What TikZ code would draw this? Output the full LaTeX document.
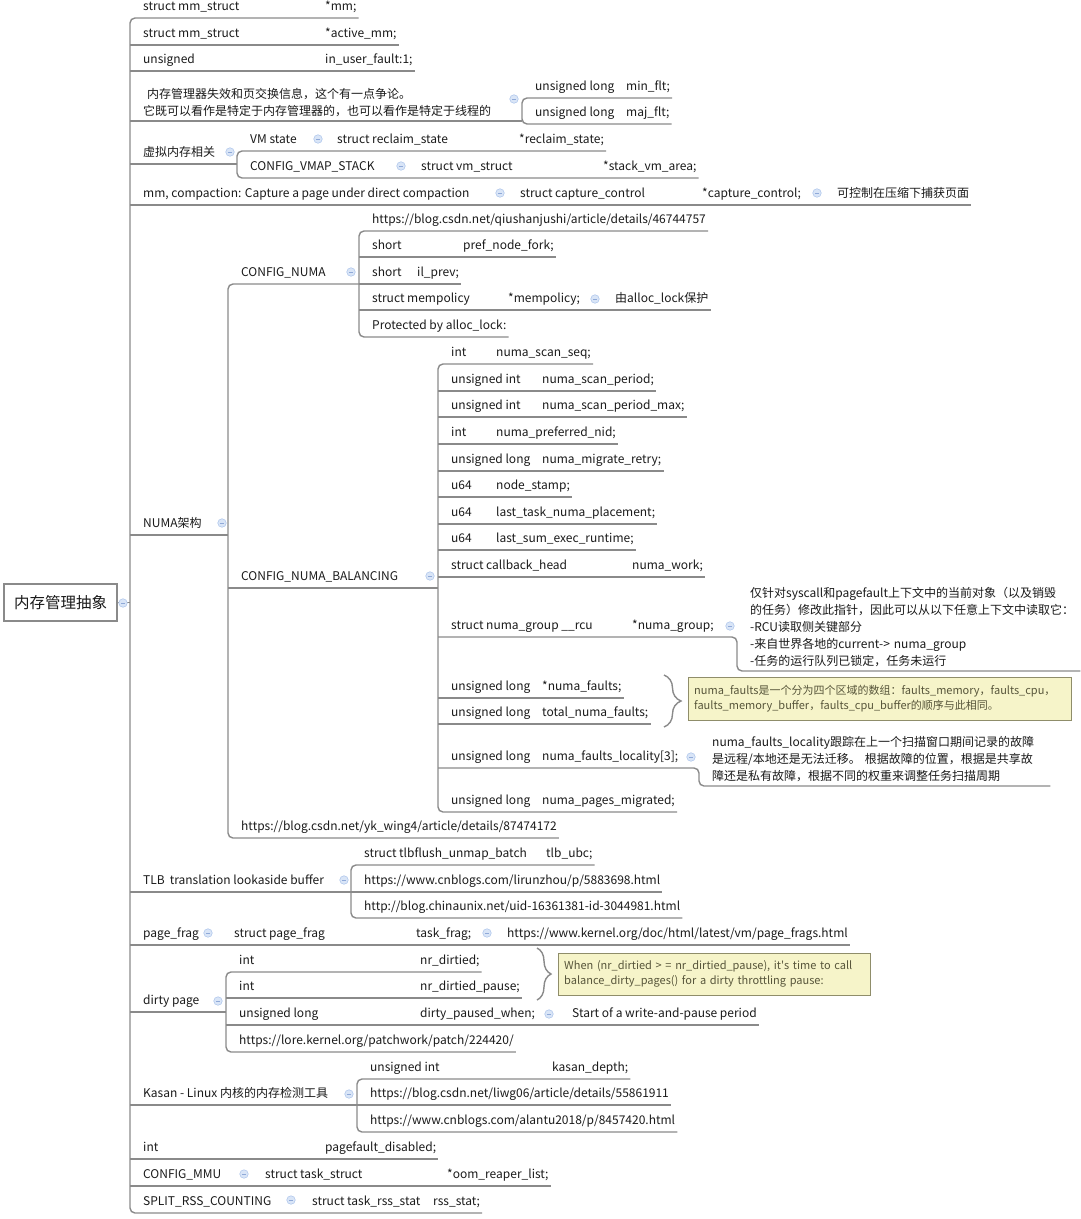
\documentclass[tikz,border=0pt]{standalone}
\usepackage{fontspec}
\setmainfont{Noto Sans CJK SC}
\newfontfamily\plainfont{Noto Sans CJK SC}
\usetikzlibrary{positioning, decorations.pathreplacing}
\definecolor{lnc}{HTML}{8A8A8A}
\definecolor{txtc}{HTML}{1A1A1A}
\definecolor{foldfill}{HTML}{D9E5F7}
\definecolor{folddraw}{HTML}{B2C8EC}
\definecolor{foldbar}{HTML}{8FA9D8}
\definecolor{notefill}{HTML}{F6F4C9}
\definecolor{notedraw}{HTML}{8F8D6A}
\definecolor{notetxt}{HTML}{57553A}
\newcommand{\cl}[2]{\makebox[#1pt][l]{#2}}

\begin{document}
\begin{tikzpicture}[
  x=1pt, y=-1pt,
  font=\fontsize{12pt}{17pt}\selectfont, text=txtc,
  item/.style={anchor=south west, inner xsep=2pt, inner ysep=0pt, text depth=7pt},
  mitem/.style={anchor=south west, inner xsep=2pt, inner ysep=4.5pt, align=left},
  ln/.style={draw=lnc, line width=1.4pt},
  rc/.style={rounded corners=5pt},
  fold/.style={circle, draw=folddraw, fill=foldfill, line width=0.6pt, minimum size=8.5pt, inner sep=0pt,
    path picture={\draw[foldbar, line width=0.7pt] ([xshift=-2.2pt]path picture bounding box.center) -- ([xshift=2.2pt]path picture bounding box.center);}},
  root/.style={draw=lnc, line width=1.4pt, fill=white, minimum width=113pt, minimum height=37pt, font=\fontsize{15.5pt}{18pt}\selectfont},
  note/.style={draw=notedraw, fill=notefill, text=notetxt, anchor=north west, align=left, inner xsep=6pt, inner ysep=5pt, font=\fontsize{11pt}{15pt}\selectfont},
  brc/.style={draw=lnc, line width=1.4pt, decorate, decoration={brace, amplitude=#1}},
]
\useasboundingbox (0,0) rectangle (1080,1219);

\node[root] (root) at (60.5,602.5) {内存管理抽象};

% first level
\node[item] (a1) at (141,18) {\cl{182}{struct mm\_struct}*mm;};
\node[item] (a2) at (141,45) {\cl{182}{struct mm\_struct}*active\_mm;};
\node[item] (a3) at (141,71) {\cl{182}{unsigned}in\_user\_fault:1;};
\node[mitem] (a4) at (141,121) {\hspace*{4pt}内存管理器失效和页交换信息，这个有一点争论。\\它既可以看作是特定于内存管理器的，也可以看作是特定于线程的};
\node[item] (a4a) at (533,98) {\cl{91}{unsigned long}min\_flt;};
\node[item] (a4b) at (533,124) {\cl{91}{unsigned long}maj\_flt;};
\node[item] (a5) at (141,164) {虚拟内存相关};
\node[item] (a5a) at (248,151) {VM state};
\node[item] (a5ac) at (335,151) {\cl{182}{struct reclaim\_state}*reclaim\_state;};
\node[item] (a5b) at (248,178) {CONFIG\_VMAP\_STACK};
\node[item] (a5bc) at (419,178) {\cl{182}{struct vm\_struct}*stack\_vm\_area;};
\node[item] (a6) at (141,205) {mm, compaction: Capture a page under direct compaction};
\node[item] (a6c) at (518,205) {\cl{182}{struct capture\_control}*capture\_control;};
\node[item] (a6cc) at (835,205) {可控制在压缩下捕获页面};
\node[item] (a7) at (141,535) {NUMA架构};

% CONFIG_NUMA
\node[item] (b1) at (239,284) {CONFIG\_NUMA};
\node[item] (c1) at (370,231) {https://blog.csdn.net/qiushanjushi/article/details/46744757};
\node[item] (c2) at (370,257) {\cl{91}{short}pref\_node\_fork;};
\node[item] (c3) at (370,284) {\cl{45}{short}il\_prev;};
\node[item] (c4) at (370,310) {\cl{136}{struct mempolicy}*mempolicy;};
\node[item] (c4c) at (613,310) {由alloc\_lock保护};
\node[item] (c5) at (370,337) {Protected by alloc\_lock:};

% CONFIG_NUMA_BALANCING
\node[item] (b2) at (239,588) {CONFIG\_NUMA\_BALANCING};
\node[item] (d1) at (449,364) {\cl{45}{int}numa\_scan\_seq;};
\node[item] (d2) at (449,391) {\cl{91}{unsigned int}numa\_scan\_period;};
\node[item] (d3) at (449,417) {\cl{91}{unsigned int}numa\_scan\_period\_max;};
\node[item] (d4) at (449,444) {\cl{45}{int}numa\_preferred\_nid;};
\node[item] (d5) at (449,471) {\cl{91}{unsigned long}numa\_migrate\_retry;};
\node[item] (d6) at (449,497) {\cl{45}{u64}node\_stamp;};
\node[item] (d7) at (449,524) {\cl{45}{u64}last\_task\_numa\_placement;};
\node[item] (d8) at (449,550) {\cl{45}{u64}last\_sum\_exec\_runtime;};
\node[item] (d9) at (449,577) {\cl{181}{struct callback\_head}numa\_work;};
\node[item] (d10) at (449,637) {\cl{181}{struct numa\_group \_\_rcu}*numa\_group;};
\node[mitem, text width=328pt] (d10n) at (748,671) {仅针对syscall和pagefault上下文中的当前对象（以及销毁\\的任务）修改此指针，因此可以从以下任意上下文中读取它：\\-RCU读取侧关键部分\\-来自世界各地的current-> numa\_group\\-任务的运行队列已锁定，任务未运行};
\node[item] (d11) at (449,698) {\cl{91}{unsigned long}*numa\_faults;};
\node[item] (d12) at (449,724) {\cl{91}{unsigned long}total\_numa\_faults;};
\node[note, text width=371pt, minimum height=43pt] (n1) at (688,677) {numa\_faults是一个分为四个区域的数组：faults\_memory，faults\_cpu，\\faults\_memory\_buffer，faults\_cpu\_buffer的顺序与此相同。};
\node[item] (d13) at (449,768) {\cl{91}{unsigned long}numa\_faults\_locality[3];};
\node[mitem, text width=336pt] (d13n) at (710,786) {numa\_faults\_locality跟踪在上一个扫描窗口期间记录的故障\\是远程/本地还是无法迁移。 根据故障的位置，根据是共享故\\障还是私有故障，根据不同的权重来调整任务扫描周期};
\node[item] (d14) at (449,812) {\cl{91}{unsigned long}numa\_pages\_migrated;};
\node[item] (b3) at (239,838) {https://blog.csdn.net/yk\_wing4/article/details/87474172};

% TLB, page_frag, dirty page
\node[item] (a8) at (141,892) {TLB\hspace{5pt}translation lookaside buffer};
\node[item] (e1) at (362,865) {\cl{182}{struct tlbflush\_unmap\_batch}tlb\_ubc;};
\node[item] (e2) at (362,892) {https://www.cnblogs.com/lirunzhou/p/5883698.html};
\node[item] (e3) at (362,918) {http://blog.chinaunix.net/uid-16361381-id-3044981.html};
\node[item] (a9) at (141,945) {page\_frag};
\node[item] (a9c) at (232,945) {\cl{182}{struct page\_frag}task\_frag;};
\node[item] (a9cc) at (505,945) {https://www.kernel.org/doc/html/latest/vm/page\_frags.html};
\node[item] (a10) at (141,1012) {dirty page};
\node[item] (f1) at (237,972) {\cl{181}{int}nr\_dirtied;};
\node[item] (f2) at (237,998) {\cl{181}{int}nr\_dirtied\_pause;};
\node[note, text width=300pt, minimum height=42pt] (n2) at (558,953) {When (nr\_dirtied > = nr\_dirtied\_pause), it{\plainfont '}s time to call\\balance\_dirty\_pages() for a dirty throttling pause:};
\node[item] (f3) at (237,1025) {\cl{181}{unsigned long}dirty\_paused\_when;};
\node[item] (f3c) at (570,1025) {Start of a write-and-pause period};
\node[item] (f4) at (237,1052) {https://lore.kernel.org/patchwork/patch/224420/};

% Kasan and the rest
\node[item] (a11) at (141,1105) {Kasan - Linux 内核的内存检测工具};
\node[item] (g1) at (368,1079) {\cl{182}{unsigned int}kasan\_depth;};
\node[item] (g2) at (368,1105) {https://blog.csdn.net/liwg06/article/details/55861911};
\node[item] (g3) at (368,1132) {https://www.cnblogs.com/alantu2018/p/8457420.html};
\node[item] (a12) at (141,1159) {\cl{182}{int}pagefault\_disabled;};
\node[item] (a13) at (141,1186) {CONFIG\_MMU};
\node[item] (a13c) at (263,1186) {\cl{182}{struct task\_struct}*oom\_reaper\_list;};
\node[item] (a14) at (141,1213) {SPLIT\_RSS\_COUNTING};
\node[item] (a14c) at (310,1213) {\cl{121}{struct task\_rss\_stat}rss\_stat;};

% spines
\draw[ln] (root.east) -- ([xshift=-11pt]a7.south west |- root.east);
\draw[ln, rc] (a1.south east) -| ([xshift=-11pt]a14.south west) -- (a14c.south east);
\draw[ln, rc] (a4a.south east) -| ([xshift=-11pt]a4b.south west) -- (a4b.south east);
\draw[ln, rc] (a5ac.south east) -| ([xshift=-11pt]a5b.south west) -- (a5bc.south east);
\draw[ln, rc] ([xshift=-11pt]c1.south west |- b1.south) -| ([xshift=-11pt]b3.south west) -- (b3.south east);
\draw[ln, rc] (c1.south east) -| ([xshift=-11pt]c5.south west) -- (c5.south east);
\draw[ln, rc] (d1.south east) -| ([xshift=-11pt]d14.south west) -- (d14.south east);
\draw[ln, rc] ([xshift=-11pt]d10.south west) -| ([xshift=-11pt]d10n.south west) -- (d10n.south east);
\draw[ln, rc] ([xshift=-11pt]d13.south west) -| ([xshift=-11pt]d13n.south west) -- (d13n.south east);
\draw[ln, rc] (e1.south east) -| ([xshift=-11pt]e3.south west) -- (e3.south east);
\draw[ln, rc] (f1.south east) -| ([xshift=-11pt]f4.south west) -- (f4.south east);
\draw[ln, rc] (g1.south east) -| ([xshift=-11pt]g3.south west) -- (g3.south east);

% underlines
\foreach \n/\e in {a2/a2, a3/a3, a6/a6cc, a9/a9cc, a12/a12, a13/a13c, c2/c2, c3/c3, c4/c4c,
  d2/d2, d3/d3, d4/d4, d5/d5, d6/d6, d7/d7, d8/d8, d9/d9, d11/d11, d12/d12, e2/e2, f2/f2, f3/f3c, g2/g2}
  \draw[ln] ([xshift=-11pt]\n.south west) -- (\e.south east);
\foreach \n/\c in {a4/a4a, a5/a5a, a7/b1, a8/e1, a10/f1, a11/g1, b2/d1}
  \draw[ln] ([xshift=-11pt]\n.south west) -- ([xshift=-11pt]\c.south west |- \n.south);

% braces
\draw[brc=17pt] (664,675) -- (664,727);
\draw[brc=14pt] (537,948) -- (537,1000);

% fold markers
\foreach \x/\y [count=\i] in {123/603, 514/99, 230/152, 318/139, 401/166, 500/193, 817/193,
  222/523, 351/272, 595/299, 430/576, 730/626, 691/757, 344/880, 208/933, 487/933,
  218/1001, 549/1014, 349/1094, 244/1174, 291/1200}
  \node[fold] (fd\i) at (\x,\y) {};
\end{tikzpicture}
\end{document}
